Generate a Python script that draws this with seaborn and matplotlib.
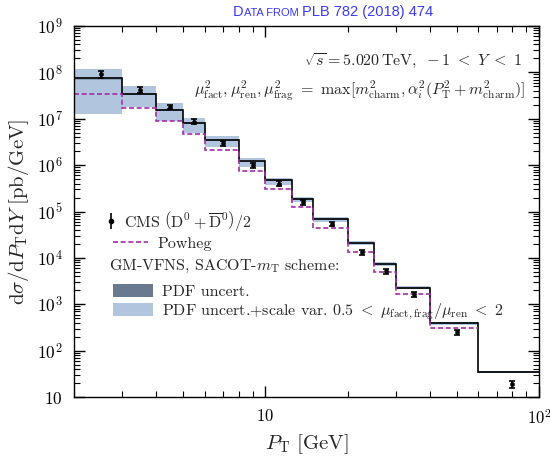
import numpy as np
import matplotlib
matplotlib.use("Agg")
import matplotlib.pyplot as plt
import seaborn as sns
from matplotlib.lines import Line2D
from matplotlib.patches import Patch
from matplotlib.offsetbox import TextArea, HPacker, AnnotationBbox
from matplotlib.ticker import LogLocator, FuncFormatter, NullFormatter

# pT binning (GeV)
pt_edges = [2, 3, 4, 5, 6, 8, 10, 12.5, 15, 20, 25, 30, 40, 60, 100]

# GM-VFNS central prediction and its uncertainty bands (pb/GeV)
gmvfns_central = [7.5e7, 3.4e7, 1.55e7, 8.1e6, 3.5e6, 1.2e6, 4.7e5, 1.87e5,
                  6.8e4, 2.05e4, 7.3e3, 2.27e3, 390, 35]
scale_hi = [1.2e8, 5.0e7, 2.2e7, 1.05e7, 4.2e6, 1.44e6, 5.4e5, 2.1e5,
            7.7e4, 2.3e4, 8.0e3, 2.5e3, 420, 37]
scale_lo = [1.26e7, 1.8e7, 8.9e6, 5.0e6, 2.4e6, 9.0e5, 3.8e5, 1.6e5,
            6.0e4, 1.85e4, 6.7e3, 2.1e3, 360, 32.5]
pdf_hi = [8.0e7, 3.6e7, 1.63e7, 8.5e6, 3.65e6, 1.25e6, 4.9e5, 1.95e5,
          7.1e4, 2.14e4, 7.6e3, 2.36e3, 405, 36.3]
pdf_lo = [7.0e7, 3.2e7, 1.47e7, 7.7e6, 3.35e6, 1.15e6, 4.5e5, 1.79e5,
          6.5e4, 1.96e4, 7.0e3, 2.18e3, 375, 33.7]

# Powheg prediction (2-60 GeV)
powheg_edges = [2, 3, 4, 5, 6, 8, 10, 12.5, 15, 20, 25, 30, 40, 60]
powheg = [3.5e7, 1.74e7, 8.9e6, 4.6e6, 2.1e6, 7.6e5, 3.1e5, 1.25e5,
          4.5e4, 1.35e4, 5.0e3, 1.66e3, 302]

# CMS data points
cms_pt = [2.5, 3.5, 4.5, 5.5, 7, 9, 11.25, 13.75, 17.5, 22.5, 27.5, 35, 50, 80]
cms_val = [9.1e7, 4.2e7, 1.8e7, 8.7e6, 3.0e6, 1.0e6, 4.0e5, 1.57e5,
           5.4e4, 1.33e4, 5.2e3, 1.66e3, 248, 18.8]
cms_relerr = [0.17, 0.14, 0.12, 0.12, 0.12, 0.12, 0.12, 0.12,
              0.12, 0.12, 0.12, 0.12, 0.13, 0.15]

sns.set_theme(style="ticks")
plt.rcParams.update({
    "font.family": "serif",
    "font.serif": ["cmr10", "DejaVu Serif"],
    "mathtext.fontset": "cm",
    "axes.formatter.use_mathtext": True,
    "axes.unicode_minus": False,
    "axes.linewidth": 1.0,
    "axes.edgecolor": "black",
    "xtick.color": "black",
    "ytick.color": "black",
})

light_blue = "#b1c5df"
dark_blue = "#66768a"
purple = "#a22fa8"

fig = plt.figure(figsize=(5.5, 4.61), dpi=100)
ax = fig.add_axes([0.1345, 0.1388, 0.8455, 0.8048])

ax.stairs(scale_hi, pt_edges, baseline=scale_lo, fill=True, color=light_blue, lw=0)
ax.stairs(pdf_hi, pt_edges, baseline=pdf_lo, fill=True, color=dark_blue, lw=0, alpha=0.5)
ax.stairs(gmvfns_central, pt_edges, color="black", lw=1.2, baseline=None)
ax.stairs(powheg, powheg_edges, color=purple, lw=1.2, ls=(0, (3, 1.6)), baseline=None)

cms_val = np.array(cms_val)
cms_err = cms_val * np.array(cms_relerr)
ax.errorbar(cms_pt, cms_val, yerr=cms_err, fmt="none", ecolor="black",
            elinewidth=1.2, capsize=2.5, capthick=1.2, zorder=5)
sns.scatterplot(x=cms_pt, y=cms_val, ax=ax, color="black", marker="o", s=10,
                edgecolor="black", zorder=6)

ax.set_xscale("log")
ax.set_yscale("log")
ax.set_xlim(2, 100)
ax.set_ylim(10, 1e9)

ax.xaxis.set_major_locator(LogLocator(base=10, numticks=10))
ax.xaxis.set_minor_locator(LogLocator(base=10, subs=np.arange(2, 10), numticks=20))
ax.yaxis.set_major_locator(LogLocator(base=10, numticks=12))
ax.yaxis.set_minor_locator(LogLocator(base=10, subs=np.arange(2, 10), numticks=20))


def pow_label(v, pos):
    n = int(round(np.log10(v)))
    return r"$10$" if n == 1 else r"$10^{%d}$" % n


ax.xaxis.set_major_formatter(FuncFormatter(pow_label))
ax.yaxis.set_major_formatter(FuncFormatter(pow_label))
ax.xaxis.set_minor_formatter(NullFormatter())
ax.yaxis.set_minor_formatter(NullFormatter())
ax.tick_params(which="both", direction="in", top=True, right=True, labelsize=12.5)
ax.tick_params(axis="x", labelsize=12)
ax.tick_params(which="major", length=8, width=1.0, pad=8)
ax.tick_params(which="minor", length=4, width=0.8)

ax.set_xlabel(r"$P_\mathrm{T}\ [\mathrm{GeV}]$", fontsize=15, labelpad=4)
ax.set_ylabel(r"$\mathrm{d}\sigma/\mathrm{d}P_\mathrm{T}\mathrm{d}Y\ [\mathrm{pb/GeV}]$",
              fontsize=15, labelpad=4)

ax.text(0.965, 0.905, r"$\sqrt{s} = 5.020\,\mathrm{TeV},\ -1\ <\ Y\ <\ 1$",
        transform=ax.transAxes, ha="right", va="center", fontsize=11.5)
ax.text(0.97, 0.826,
        r"$\mu^2_\mathrm{fact}, \mu^2_\mathrm{ren}, \mu^2_\mathrm{frag}\ =\ "
        r"\max[m^2_\mathrm{charm}, \alpha_i^2(P_\mathrm{T}^2 + m^2_\mathrm{charm})]$",
        transform=ax.transAxes, ha="right", va="center", fontsize=11.5)

# legends
h_cms = ax.errorbar([], [], yerr=[], fmt="o", ms=3, color="black", capsize=2.5,
                    elinewidth=1.2, capthick=1.2)
leg1 = ax.legend([h_cms], [r"CMS $\left(\mathrm{D}^0 + \overline{\mathrm{D}}^0\right)/2$"],
                 loc="upper left", bbox_to_anchor=(0.055, 0.525), frameon=False,
                 fontsize=11.5, handlelength=0.6, handletextpad=0.5, borderaxespad=0)
ax.add_artist(leg1)
h_pow = Line2D([], [], color=purple, lw=1.2, ls=(0, (3, 1.6)))
leg2 = ax.legend([h_pow], ["Powheg"], loc="upper left", bbox_to_anchor=(0.07, 0.45),
                 frameon=False, fontsize=11.5, handlelength=2.2, handletextpad=0.6,
                 borderaxespad=0)
ax.add_artist(leg2)
ax.text(0.075, 0.352, r"GM-VFNS, SACOT-$m_\mathrm{T}$ scheme:", transform=ax.transAxes,
        ha="left", va="center", fontsize=11.5)
h_pdf = Patch(facecolor="#6a7a8e", edgecolor="none")
h_scale = Patch(facecolor=light_blue, edgecolor="none")
ax.legend([h_pdf, h_scale],
          ["PDF uncert.",
           r"PDF uncert.+scale var. $0.5\ <\ \mu_\mathrm{fact,frag}/\mu_\mathrm{ren}\ <\ 2$"],
          loc="upper left", bbox_to_anchor=(0.07, 0.322), frameon=False, fontsize=11.5,
          handlelength=2.5, handleheight=0.9, handletextpad=0.6, labelspacing=0.15,
          borderaxespad=0)

# header line in small caps
title_color = "#3a3af0"
parts = [("D", 10.5), ("ATA FROM ", 8), ("PLB 782 (2018) 474", 10.5)]
boxes = [TextArea(t, textprops=dict(fontsize=s, color=title_color,
                                    family="Liberation Sans")) for t, s in parts]
pack = HPacker(children=boxes, align="baseline", pad=0, sep=0)
ab = AnnotationBbox(pack, (333 / 550, 1 - 12 / 461), xycoords="figure fraction",
                    frameon=False, box_alignment=(0.5, 0.5), annotation_clip=False)
fig.add_artist(ab)

fig.savefig("out.png", dpi=100)
